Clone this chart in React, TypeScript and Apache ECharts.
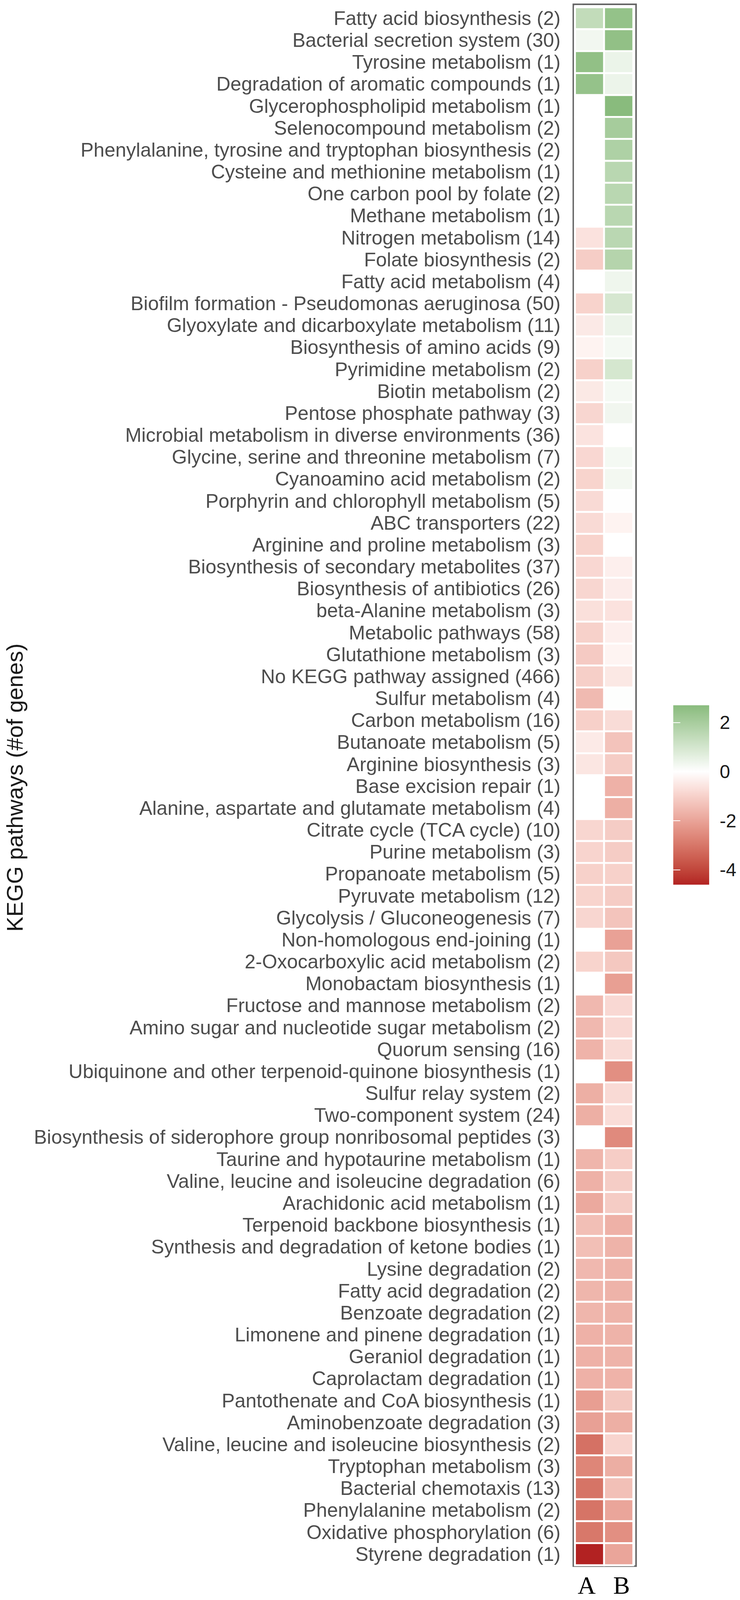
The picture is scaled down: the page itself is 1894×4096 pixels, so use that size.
import React, { useEffect, useRef } from "react";
import * as echarts from "echarts";

const pathways = [
  "Fatty acid biosynthesis (2)",
  "Bacterial secretion system (30)",
  "Tyrosine metabolism (1)",
  "Degradation of aromatic compounds (1)",
  "Glycerophospholipid metabolism (1)",
  "Selenocompound metabolism (2)",
  "Phenylalanine, tyrosine and tryptophan biosynthesis (2)",
  "Cysteine and methionine metabolism (1)",
  "One carbon pool by folate (2)",
  "Methane metabolism (1)",
  "Nitrogen metabolism (14)",
  "Folate biosynthesis (2)",
  "Fatty acid metabolism (4)",
  "Biofilm formation - Pseudomonas aeruginosa (50)",
  "Glyoxylate and dicarboxylate metabolism (11)",
  "Biosynthesis of amino acids (9)",
  "Pyrimidine metabolism (2)",
  "Biotin metabolism (2)",
  "Pentose phosphate pathway (3)",
  "Microbial metabolism in diverse environments (36)",
  "Glycine, serine and threonine metabolism (7)",
  "Cyanoamino acid metabolism (2)",
  "Porphyrin and chlorophyll metabolism (5)",
  "ABC transporters (22)",
  "Arginine and proline metabolism (3)",
  "Biosynthesis of secondary metabolites (37)",
  "Biosynthesis of antibiotics (26)",
  "beta-Alanine metabolism (3)",
  "Metabolic pathways (58)",
  "Glutathione metabolism (3)",
  "No KEGG pathway assigned (466)",
  "Sulfur metabolism (4)",
  "Carbon metabolism (16)",
  "Butanoate metabolism (5)",
  "Arginine biosynthesis (3)",
  "Base excision repair (1)",
  "Alanine, aspartate and glutamate metabolism (4)",
  "Citrate cycle (TCA cycle) (10)",
  "Purine metabolism (3)",
  "Propanoate metabolism (5)",
  "Pyruvate metabolism (12)",
  "Glycolysis / Gluconeogenesis (7)",
  "Non-homologous end-joining (1)",
  "2-Oxocarboxylic acid metabolism (2)",
  "Monobactam biosynthesis (1)",
  "Fructose and mannose metabolism (2)",
  "Amino sugar and nucleotide sugar metabolism (2)",
  "Quorum sensing (16)",
  "Ubiquinone and other terpenoid-quinone biosynthesis (1)",
  "Sulfur relay system (2)",
  "Two-component system (24)",
  "Biosynthesis of siderophore group nonribosomal peptides (3)",
  "Taurine and hypotaurine metabolism (1)",
  "Valine, leucine and isoleucine degradation (6)",
  "Arachidonic acid metabolism (1)",
  "Terpenoid backbone biosynthesis (1)",
  "Synthesis and degradation of ketone bodies (1)",
  "Lysine degradation (2)",
  "Fatty acid degradation (2)",
  "Benzoate degradation (2)",
  "Limonene and pinene degradation (1)",
  "Geraniol degradation (1)",
  "Caprolactam degradation (1)",
  "Pantothenate and CoA biosynthesis (1)",
  "Aminobenzoate degradation (3)",
  "Valine, leucine and isoleucine biosynthesis (2)",
  "Tryptophan metabolism (3)",
  "Bacterial chemotaxis (13)",
  "Phenylalanine metabolism (2)",
  "Oxidative phosphorylation (6)",
  "Styrene degradation (1)",
];

const samples = ["A", "B"];

const valuesA = [
  1.4, 0.3, 2.5, 2.42, 0, 0, 0, 0, 0, 0,
  -0.62, -1.07, 0, -0.95, -0.47, -0.25, -1.0, -0.48, -0.88, -0.6,
  -0.85, -0.93, -0.8, -0.8, -0.95, -0.85, -0.88, -0.68, -1.0, -1.15,
  -1.03, -1.5, -1.02, -0.45, -0.55, 0, 0, -0.88, -0.92, -1.0,
  -0.93, -0.88, 0, -0.93, 0, -1.55, -1.55, -1.65, 0, -1.75,
  -1.75, 0, -1.62, -1.71, -1.88, -1.4, -1.4, -1.55, -1.6, -1.6,
  -1.7, -1.7, -1.71, -2.12, -2.07, -3.1, -2.65, -3.05, -3.05, -2.95,
  -4.6,
];

const valuesB = [
  2.45, 2.5, 0.45, 0.43, 2.7, 2.05, 1.85, 1.6, 1.6, 1.6,
  1.58, 1.7, 0.37, 0.95, 0.42, 0.25, 0.97, 0.25, 0.33, 0,
  0.25, 0.28, 0.03, -0.25, 0, -0.33, -0.4, -0.62, -0.35, -0.24,
  -0.5, 0.04, -0.77, -1.3, -1.1, -1.7, -1.75, -1.1, -1.1, -1.0,
  -1.1, -1.28, -2.05, -1.2, -2.1, -0.83, -0.83, -0.78, -2.45, -0.8,
  -0.75, -2.55, -1.07, -1.08, -1.1, -1.7, -1.67, -1.67, -1.67, -1.67,
  -1.67, -1.67, -1.65, -1.2, -1.75, -0.92, -1.78, -1.38, -1.95, -2.45,
  -1.95,
];

const legendTicks = [-4, -2, 0, 2];
const scaleMin = -4.6;
const scaleMax = 2.7;

// ---- colour helpers (Lab interpolation, like ggplot's gradient2) ----
const LOW = [178, 34, 34];
const MID = [255, 255, 255];
const HIGH_AT_MAX = [137, 187, 125];

function toLin(c: number) {
  const v = c / 255;
  return v <= 0.04045 ? v / 12.92 : Math.pow((v + 0.055) / 1.055, 2.4);
}
function fromLin(c: number) {
  const v = c <= 0.0031308 ? 12.92 * c : 1.055 * Math.pow(c, 1 / 2.4) - 0.055;
  return Math.round(Math.max(0, Math.min(1, v)) * 255);
}
function rgbToLab(rgb: number[]) {
  const r = toLin(rgb[0]), g = toLin(rgb[1]), b = toLin(rgb[2]);
  const X = (0.4124 * r + 0.3576 * g + 0.1805 * b) / 0.95047;
  const Y = 0.2126 * r + 0.7152 * g + 0.0722 * b;
  const Z = (0.0193 * r + 0.1192 * g + 0.9505 * b) / 1.08883;
  const f = (t: number) => (t > 0.008856 ? Math.cbrt(t) : 7.787 * t + 16 / 116);
  const fx = f(X), fy = f(Y), fz = f(Z);
  return [116 * fy - 16, 500 * (fx - fy), 200 * (fy - fz)];
}
function labToRgb(lab: number[]) {
  const fy = (lab[0] + 16) / 116;
  const fx = fy + lab[1] / 500;
  const fz = fy - lab[2] / 200;
  const inv = (t: number) => (t * t * t > 0.008856 ? t * t * t : (t - 16 / 116) / 7.787);
  const X = inv(fx) * 0.95047, Y = inv(fy), Z = inv(fz) * 1.08883;
  const r = 3.2406 * X - 1.5372 * Y - 0.4986 * Z;
  const g = -0.9689 * X + 1.8758 * Y + 0.0415 * Z;
  const b = 0.0557 * X - 0.204 * Y + 1.057 * Z;
  return [fromLin(r), fromLin(g), fromLin(b)];
}
const labLow = rgbToLab(LOW), labMid = rgbToLab(MID), labHigh = rgbToLab(HIGH_AT_MAX);
function colourFor(v: number) {
  let a = labMid, b = labLow, t = 0;
  if (v < 0) { b = labLow; t = Math.min(1, v / scaleMin); }
  else { b = labHigh; t = Math.min(1, v / scaleMax); }
  const lab = [0, 1, 2].map((i) => a[i] + (b[i] - a[i]) * t);
  const rgb = labToRgb(lab);
  return `rgb(${rgb[0]},${rgb[1]},${rgb[2]})`;
}

const S = 0.967;

export default function App() {
  const ref = useRef<HTMLDivElement>(null);
  useEffect(() => {
    if (!ref.current) return;
    const chart = echarts.init(ref.current, undefined, { renderer: "svg" });

    const data: number[][] = [];
    pathways.forEach((_, i) => {
      data.push([0, i, valuesA[i]]);
      data.push([1, i, valuesB[i]]);
    });

    const nSteps = Math.round((scaleMax - scaleMin) * 10);
    const mapColours: string[] = [];
    for (let i = 0; i <= nSteps; i++) mapColours.push(colourFor(scaleMin + i / 10));
    const gradStops: { offset: number; color: string }[] = [];
    for (let i = 0; i <= nSteps; i++) {
      gradStops.push({ offset: i / nSteps, color: colourFor(scaleMax - i / 10) });
    }

    const sans = "'Liberation Sans', Arial, sans-serif";
    const serif = "'Liberation Serif', 'Times New Roman', serif";

    const legend = { left: 1782 * S, top: 1867 * S, width: 95 * S, height: 475 * S };

    chart.setOption({
      animation: false,
      backgroundColor: "#ffffff",
      grid: [
        { left: 1522 * S, top: 19.5 * S, width: 154 * S, height: 4124 * S, containLabel: false },
        { left: legend.left, top: legend.top, width: legend.width, height: legend.height, containLabel: false },
      ],
      xAxis: [
        {
          type: "category",
          gridIndex: 0,
          data: samples,
          position: "bottom",
          axisLine: { show: false },
          axisTick: { show: false },
          splitLine: { show: false },
          axisLabel: {
            margin: 27,
            formatter: (v: string) => (v === "A" ? "{a|A}" : "{b|B}"),
            rich: {
              a: { fontSize: 64, lineHeight: 50, fontFamily: serif, color: "#000", padding: [0, 15, 0, 0] },
              b: { fontSize: 64, lineHeight: 50, fontFamily: serif, color: "#000", padding: [0, 0, 0, 15] },
            },
          },
        },
        { type: "value", gridIndex: 1, show: false, min: 0, max: 1 },
      ],
      yAxis: [
        {
          type: "category",
          gridIndex: 0,
          data: pathways,
          inverse: true,
          axisLine: { show: false },
          axisTick: { show: false },
          splitLine: { show: false },
          axisLabel: {
            interval: 0,
            margin: 37,
            fontSize: 50,
            fontFamily: sans,
            color: "#4d4d4d",
          },
        },
        {
          type: "value",
          gridIndex: 1,
          min: scaleMin,
          max: scaleMax,
          position: "right",
          z: 10,
          axisLine: { show: false },
          splitLine: { show: false },
          axisTick: {
            show: true,
            inside: true,
            length: 18,
            customValues: legendTicks,
            lineStyle: { color: "#ffffff", width: 2 },
          },
          axisLabel: {
            show: true,
            customValues: legendTicks,
            margin: 27,
            fontSize: 48,
            fontFamily: sans,
            color: "#1a1a1a",
          },
        },
        {
          type: "value",
          gridIndex: 1,
          min: scaleMin,
          max: scaleMax,
          position: "left",
          z: 10,
          axisLine: { show: false },
          splitLine: { show: false },
          axisTick: {
            show: true,
            inside: true,
            length: 18,
            customValues: legendTicks,
            lineStyle: { color: "#ffffff", width: 2 },
          },
          axisLabel: { show: false },
        },
      ],
      visualMap: {
        type: "continuous",
        show: false,
        min: scaleMin,
        max: scaleMax,
        dimension: 2,
        seriesIndex: 0,
        inRange: { color: mapColours },
      },
      graphic: [
        {
          type: "rect",
          z: 0,
          shape: { x: 1517.5 * S, y: 11.5 * S, width: 166 * S, height: 4134.5 * S },
          style: { fill: "none", stroke: "#666666", lineWidth: 4 },
        },
        {
          type: "rect",
          z: 0,
          shape: { x: legend.left, y: legend.top, width: legend.width, height: legend.height },
          style: {
            fill: { type: "linear", x: 0, y: 0, x2: 0, y2: 1, colorStops: gradStops },
          },
        },
        {
          type: "text",
          x: 39 * S,
          y: 2085 * S,
          rotation: Math.PI / 2,
          style: {
            text: "KEGG pathways (#of genes)",
            fontSize: 58,
            fontFamily: sans,
            fill: "#1a1a1a",
            align: "center",
            verticalAlign: "middle",
            textAlign: "center",
            textVerticalAlign: "middle",
          },
        },
      ],
      series: [
        {
          type: "heatmap",
          xAxisIndex: 0,
          yAxisIndex: 0,
          data,
          itemStyle: { borderColor: "#ffffff", borderWidth: 5 * S },
          emphasis: { disabled: true },
        },
      ],
    });
    return () => chart.dispose();
  }, []);
  return (
    <div
      ref={ref}
      style={{ position: "absolute", left: 0, top: 0, width: 1894, height: 4096 }}
    />
  );
}
